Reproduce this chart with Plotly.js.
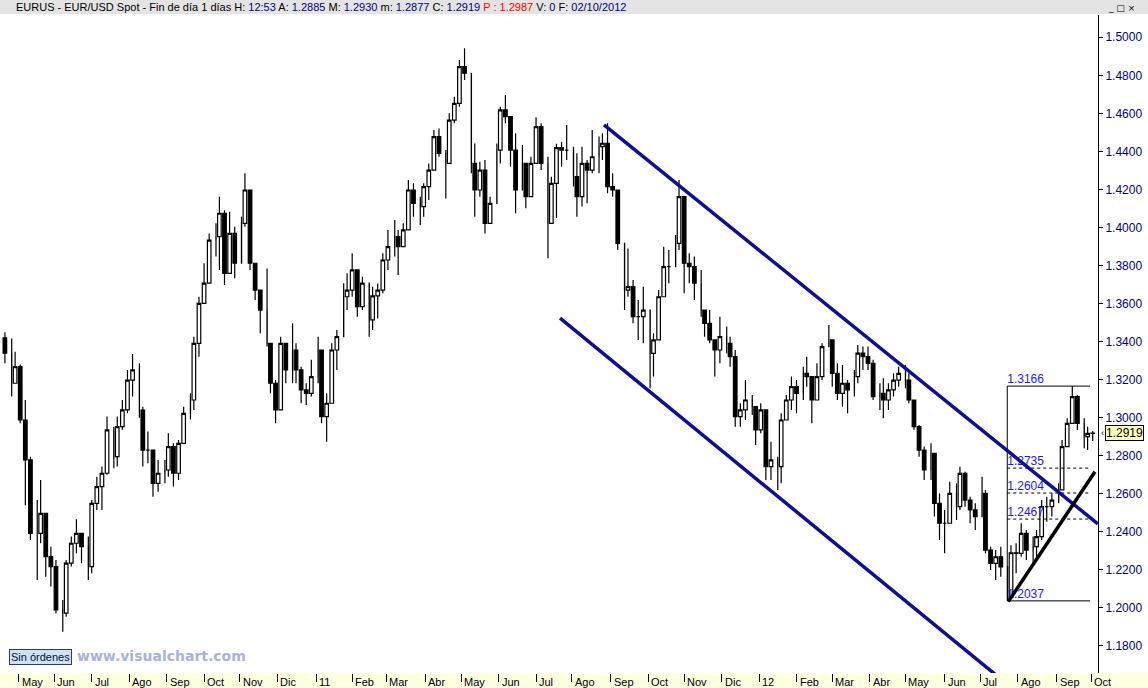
<!DOCTYPE html>
<html>
<head>
<meta charset="utf-8">
<script src="https://cdn.plot.ly/plotly-3.0.1.min.js"></script>
<style>html,body{margin:0;padding:0;background:#fff;}#chart{width:1148px;height:688px;}</style>
</head>
<body>
<div id="chart"></div>
<script>
const startDate = '2010-04-21';
const stepDays = 3;
const firstOpen = 1.3420;

const high = [
 1.3449,1.3417,1.3347,1.3280,1.3093,1.2795,1.2567,1.2673,1.2497,1.2322,
 1.2252,1.2042,1.2252,1.2375,1.2466,1.2392,1.2375,1.2567,1.2690,1.2743,
 1.3006,1.2953,1.3006,1.3093,1.3251,1.3335,1.3286,1.3058,1.2927,1.2830,
 1.2778,1.2778,1.2918,1.2865,1.2883,1.3058,1.3128,1.3426,1.3636,1.3812,
 1.3969,1.4022,1.4162,1.4090,1.4083,1.4004,1.4057,1.4285,1.4200,1.3812,
 1.3671,1.3785,1.3391,1.3198,1.3426,1.3391,1.3496,1.3391,1.3268,1.3181,
 1.3304,1.3426,1.3356,1.3128,1.3391,1.3461,1.3707,1.3759,1.3864,1.3777,
 1.3741,1.3707,1.3689,1.3706,1.3864,1.3987,1.4039,1.3987,1.4022,1.4250,
 1.4232,1.4162,1.4232,1.4337,1.4513,1.4521,1.4407,1.4600,1.4688,1.4881,
 1.4942,1.4811,1.4442,1.4346,1.4355,1.4162,1.4442,1.4635,1.4697,1.4583,
 1.4495,1.4434,1.4337,1.4372,1.4579,1.4548,1.4372,1.4267,1.4440,1.4451,
 1.4539,1.4425,1.4390,1.4425,1.4355,1.4513,1.4478,1.4495,1.4548,1.4285,
 1.4197,1.3917,1.3890,1.3724,1.3619,1.3689,1.3566,1.3444,1.3671,1.3899,
 1.3882,1.3960,1.4250,1.4162,1.3864,1.3847,1.3777,1.3566,1.3566,1.3409,
 1.3531,1.3479,1.3426,1.3356,1.3076,1.3198,1.3119,1.3058,1.3076,1.3041,
 1.2874,1.2795,1.3023,1.3119,1.3216,1.3198,1.3268,1.3321,1.3216,1.3286,
 1.3391,1.3488,1.3409,1.3286,1.3277,1.3198,1.3251,1.3382,1.3374,1.3374,
 1.3304,1.3181,1.3207,1.3181,1.3233,1.3268,1.3277,1.3233,1.3093,1.2962,
 1.2848,1.2865,1.2813,1.2602,1.2515,1.2663,1.2655,1.2742,1.2716,1.2585,
 1.2550,1.2690,1.2620,1.2322,1.2304,1.2322,1.2216,1.2330,1.2340,1.2445,
 1.2410,1.2375,1.2410,1.2567,1.2585,1.2602,1.2655,1.2883,1.2997,1.3166,
 1.3119,1.2997,1.2953,1.2930
];
const low = [
 1.3286,1.3111,1.3181,1.2971,1.2540,1.2357,1.2147,1.2340,1.2164,1.2112,
 1.1972,1.1875,1.1954,1.2217,1.2287,1.2235,1.2147,1.2182,1.2515,1.2515,
 1.2700,1.2734,1.2743,1.2936,1.3023,1.3111,1.3000,1.2743,1.2760,1.2585,
 1.2611,1.2655,1.2690,1.2638,1.2673,1.2865,1.2990,1.3041,1.3321,1.3600,
 1.3707,1.3847,1.3777,1.3698,1.3759,1.3733,1.3812,1.4004,1.3777,1.3619,
 1.3444,1.3374,1.3128,1.2971,1.3041,1.3181,1.3181,1.3181,1.3076,1.3067,
 1.3111,1.3181,1.2971,1.2874,1.3076,1.3251,1.3426,1.3566,1.3636,1.3531,
 1.3566,1.3426,1.3461,1.3522,1.3654,1.3777,1.3847,1.3750,1.3899,1.3987,
 1.4057,1.4013,1.4057,1.4145,1.4302,1.4372,1.4153,1.4337,1.4548,1.4635,
 1.4775,1.4285,1.4057,1.4162,1.3969,1.4022,1.4127,1.4337,1.4548,1.4320,
 1.4075,1.4197,1.4101,1.4162,1.4337,1.4302,1.3838,1.4022,1.4050,1.4320,
 1.4355,1.4215,1.4057,1.4110,1.4127,1.4285,1.4285,1.4355,1.4180,1.4162,
 1.3882,1.3566,1.3636,1.3496,1.3409,1.3391,1.3155,1.3216,1.3409,1.3636,
 1.3707,1.3794,1.3882,1.3654,1.3707,1.3619,1.3531,1.3426,1.3391,1.3216,
 1.3286,1.3338,1.3268,1.2953,1.2953,1.2988,1.3014,1.2857,1.2918,1.2673,
 1.2673,1.2620,1.2655,1.2988,1.3041,1.3023,1.3093,1.3163,1.2971,1.3093,
 1.3198,1.3374,1.3163,1.3093,1.3058,1.3023,1.3111,1.3181,1.3251,1.3251,
 1.3093,1.3041,1.2997,1.3041,1.3111,1.3163,1.3155,1.3076,1.2936,1.2795,
 1.2673,1.2673,1.2480,1.2357,1.2287,1.2445,1.2462,1.2515,1.2532,1.2445,
 1.2410,1.2480,1.2287,1.2199,1.2146,1.2164,1.2037,1.2060,1.2182,1.2269,
 1.2252,1.2234,1.2269,1.2357,1.2453,1.2480,1.2550,1.2620,1.2848,1.2970,
 1.2935,1.2839,1.2830,1.2877
];
const close = [
 1.3339,1.3181,1.3268,1.2988,1.2778,1.2392,1.2392,1.2497,1.2270,1.2217,
 1.1989,1.1972,1.2235,1.2340,1.2392,1.2322,1.2217,1.2550,1.2638,1.2708,
 1.2936,1.2795,1.2953,1.3041,1.3198,1.3251,1.3040,1.2830,1.2830,1.2655,
 1.2708,1.2725,1.2848,1.2708,1.2865,1.3023,1.3093,1.3391,1.3601,1.3707,
 1.3934,1.3952,1.4075,1.3759,1.3969,1.3812,1.4022,1.4197,1.3812,1.3671,
 1.3566,1.3391,1.3181,1.3041,1.3391,1.3251,1.3356,1.3251,1.3146,1.3128,
 1.3216,1.3356,1.3006,1.3076,1.3356,1.3426,1.3636,1.3671,1.3777,1.3584,
 1.3707,1.3514,1.3640,1.3671,1.3829,1.3899,1.3952,1.3899,1.3987,1.4197,
 1.4127,1.4110,1.4215,1.4302,1.4478,1.4390,1.4337,1.4565,1.4653,1.4846,
 1.4811,1.4337,1.4197,1.4302,1.4022,1.4127,1.4407,1.4618,1.4583,1.4407,
 1.4197,1.4337,1.4162,1.4337,1.4530,1.4337,1.4022,1.4232,1.4420,1.4407,
 1.4407,1.4267,1.4162,1.4337,1.4302,1.4372,1.4425,1.4443,1.4215,1.4197,
 1.3917,1.3671,1.3689,1.3531,1.3531,1.3566,1.3338,1.3409,1.3636,1.3794,
 1.3794,1.3917,1.4162,1.3812,1.3794,1.3707,1.3566,1.3496,1.3409,1.3356,
 1.3426,1.3391,1.3321,1.3006,1.3041,1.3093,1.3058,1.2936,1.3041,1.2743,
 1.2778,1.2743,1.2988,1.3093,1.3163,1.3128,1.3233,1.3216,1.3093,1.3216,
 1.3374,1.3409,1.3233,1.3128,1.3181,1.3146,1.3216,1.3339,1.3321,1.3286,
 1.3111,1.3128,1.3093,1.3146,1.3198,1.3233,1.3198,1.3093,1.2953,1.2830,
 1.2725,1.2813,1.2550,1.2445,1.2445,1.2602,1.2532,1.2707,1.2567,1.2515,
 1.2480,1.2602,1.2304,1.2234,1.2269,1.2216,1.2060,1.2290,1.2287,1.2392,
 1.2304,1.2322,1.2375,1.2532,1.2532,1.2567,1.2620,1.2848,1.2970,1.3111,
 1.2970,1.2900,1.2918,1.2919
];

// axis ticks
const monthTicks = ['2010-05-03','2010-06-01','2010-07-01','2010-08-02','2010-09-01','2010-10-01','2010-11-01','2010-12-01',
 '2011-01-03','2011-02-01','2011-03-01','2011-04-01','2011-05-02','2011-06-01','2011-07-01','2011-08-01','2011-09-01','2011-10-03','2011-11-01','2011-12-01',
 '2012-01-02','2012-02-01','2012-03-01','2012-04-02','2012-05-01','2012-06-01','2012-07-02','2012-08-01','2012-09-03','2012-10-01'];
const monthLabels = ['May','Jun','Jul','Ago','Sep','Oct','Nov','Dic',
 '11','Feb','Mar','Abr','May','Jun','Jul','Ago','Sep','Oct','Nov','Dic',
 '12','Feb','Mar','Abr','May','Jun','Jul','Ago','Sep','Oct'];
const priceTicks = [1.18,1.20,1.22,1.24,1.26,1.28,1.30,1.32,1.34,1.36,1.38,1.40,1.42,1.44,1.46,1.48,1.50];
const xRange = ['2010-04-16 03:00','2012-10-05 02:24'];
const yRange = [1.16577, 1.51172];

// drawn studies (date, price)
const channelTopX = ['2011-08-25 21:36','2012-10-05 00:00'];
const channelTopY = [1.4539, 1.2442];
const channelBotX = ['2011-07-21 02:24','2012-07-17 12:00'];
const channelBotY = [1.3523, 1.1630];
const supportX = ['2012-07-24 09:36','2012-10-03 07:12'];
const supportY = [1.2033, 1.2716];
const fibX = ['2012-07-23 19:12','2012-09-28 09:36'];
const fibLevels = [1.3166, 1.2735, 1.2604, 1.2467, 1.2037];
const fibLabels = ['1.3166','1.2735','1.2604','1.2467','1.2037'];
const lastPrice = 1.2919;

function businessDays(startISO, count, step){
  const out=[]; const d=new Date(startISO+'T00:00:00Z'); let k=0;
  while(out.length<count){
    const wd=d.getUTCDay();
    if(wd!==0 && wd!==6){ if(k%step===0) out.push(d.toISOString().slice(0,10)); k++; }
    d.setUTCDate(d.getUTCDate()+1);
  }
  return out;
}
const dates = businessDays(startDate, close.length, stepDays);
const open = close.map((c,i)=> i===0 ? firstOpen : close[i-1]);

const FONT = 'Liberation Sans, Arial, sans-serif';
const PH = 658, PW = 1098;

const traces = [
  {type:'candlestick', x:dates, open:open, high:high, low:low, close:close,
   increasing:{line:{color:'#000000',width:1.2}, fillcolor:'#ffffff'},
   decreasing:{line:{color:'#000000',width:1.2}, fillcolor:'#000000'},
   whiskerwidth:0, hoverinfo:'skip'},
  {type:'scatter', mode:'text', x:fibLevels.map(()=>fibX[0]), y:fibLevels, text:fibLabels,
   textposition:'top right', cliponaxis:false, hoverinfo:'skip',
   textfont:{family:FONT, size:12, color:'#1a1aff'}}
];

const shapes = [
  {type:'rect', xref:'paper', yref:'paper', x0:0, x1:1148/PW, y0:-15/PH, y1:0, fillcolor:'#ffffe1', line:{width:0}, layer:'below'},
  {type:'rect', xref:'paper', yref:'paper', x0:0, x1:1148/PW, y0:1+1/PH, y1:1+15/PH, fillcolor:'#e4e4e4', line:{width:0}, layer:'below'},
  {type:'line', xref:'x', yref:'y', x0:fibX[0], x1:fibX[0], y0:fibLevels[4], y1:fibLevels[0], line:{color:'#000',width:1}}
];
fibLevels.forEach((lv,i)=>{
  const solid = (i===0 || i===fibLevels.length-1);
  shapes.push({type:'line', xref:'x', yref:'y', x0:fibX[0], x1:fibX[1], y0:lv, y1:lv,
    line:{color:'#000', width:1, dash: solid ? 'solid' : '3px,3px'}});
});
shapes.push(
  {type:'line', xref:'x', yref:'y', x0:channelTopX[0], y0:channelTopY[0], x1:channelTopX[1], y1:channelTopY[1], line:{color:'#10108c', width:3.5}},
  {type:'line', xref:'x', yref:'y', x0:channelBotX[0], y0:channelBotY[0], x1:channelBotX[1], y1:channelBotY[1], line:{color:'#10108c', width:3.5}},
  {type:'line', xref:'x', yref:'y', x0:supportX[0], y0:supportY[0], x1:supportX[1], y1:supportY[1], line:{color:'#000000', width:3.5}}
);

const nv = s => '<span style="color:#000080">'+s+'</span>';
const headerText = 'EURUS - EUR/USD Spot - Fin de día 1 días H: '+nv('12:53')+' A: '+nv('1.2885')+' M: '+nv('1.2930')+
  ' m: '+nv('1.2877')+' C: '+nv('1.2919')+' <span style="color:#ff0000">P : 1.2987</span> V: '+nv('0')+' F: '+nv('02/10/2012');

const annotations = [
  {xref:'paper', yref:'paper', x:14/PW, y:1+7.5/PH, xanchor:'left', yanchor:'middle', showarrow:false,
   text:headerText, font:{family:FONT, size:11, color:'#000'}},
  {xref:'paper', yref:'paper', x:1106/PW, y:1+7/PH, xanchor:'left', yanchor:'middle', showarrow:false,
   text:'_ □ ×', font:{family:'DejaVu Sans', size:9, color:'#000'}},
  {xref:'paper', yref:'y', x:1105/PW, y:lastPrice, xanchor:'left', yanchor:'middle', showarrow:false,
   text:lastPrice.toFixed(4), bgcolor:'#ffffc0', bordercolor:'#000', borderwidth:1, borderpad:0,
   font:{family:FONT, size:12, color:'#000'}},
  {xref:'paper', yref:'y', x:1099/PW, y:lastPrice, xanchor:'left', yanchor:'middle', showarrow:false,
   text:'‹', font:{family:FONT, size:9, color:'#000'}},
  {xref:'paper', yref:'paper', x:9/PW, y:(673-656.5)/PH, xanchor:'left', yanchor:'middle', showarrow:false,
   text:'Sin órdenes', bgcolor:'#cfe2f5', bordercolor:'#2c3e66', borderwidth:1, borderpad:1,
   font:{family:FONT, size:11, color:'#00103a'}},
  {xref:'paper', yref:'paper', x:75/PW, y:(673-656)/PH, xanchor:'left', yanchor:'middle', showarrow:false,
   text:'<b>www.visualchart.com</b>', font:{family:'DejaVu Sans', size:14, color:'#a9b3d8'}}
];
monthTicks.forEach((d,i)=>{
  annotations.push({xref:'x', yref:'paper', x:d, y:0, yshift:-1, xanchor:'left', yanchor:'top', xshift:1,
    showarrow:false, text:monthLabels[i], font:{family:FONT, size:11, color:'#000'}});
});

const layout = {
  width:1148, height:688,
  margin:{l:0, r:50, t:15, b:15, pad:0},
  paper_bgcolor:'#ffffff', plot_bgcolor:'#ffffff',
  showlegend:false, hovermode:false, dragmode:false,
  boxgap:0.3, boxgroupgap:0,
  xaxis:{type:'date', range:xRange, rangebreaks:[{bounds:['sat','mon']}], rangeslider:{visible:false},
    showgrid:false, zeroline:false, showline:false, ticks:'outside', ticklen:8, tickwidth:1, tickcolor:'#000',
    tickvals:monthTicks, showticklabels:false, fixedrange:true},
  yaxis:{side:'right', range:yRange, tickvals:priceTicks, ticktext:priceTicks.map(v=>v.toFixed(4)),
    ticks:'outside', ticklen:4, tickcolor:'#000', showline:true, linecolor:'#000', linewidth:1,
    showgrid:false, zeroline:false, fixedrange:true,
    tickfont:{family:FONT, size:12, color:'#000080'}},
  shapes:shapes, annotations:annotations
};

Plotly.newPlot('chart', traces, layout, {staticPlot:true, displayModeBar:false});
</script>
</body>
</html>
